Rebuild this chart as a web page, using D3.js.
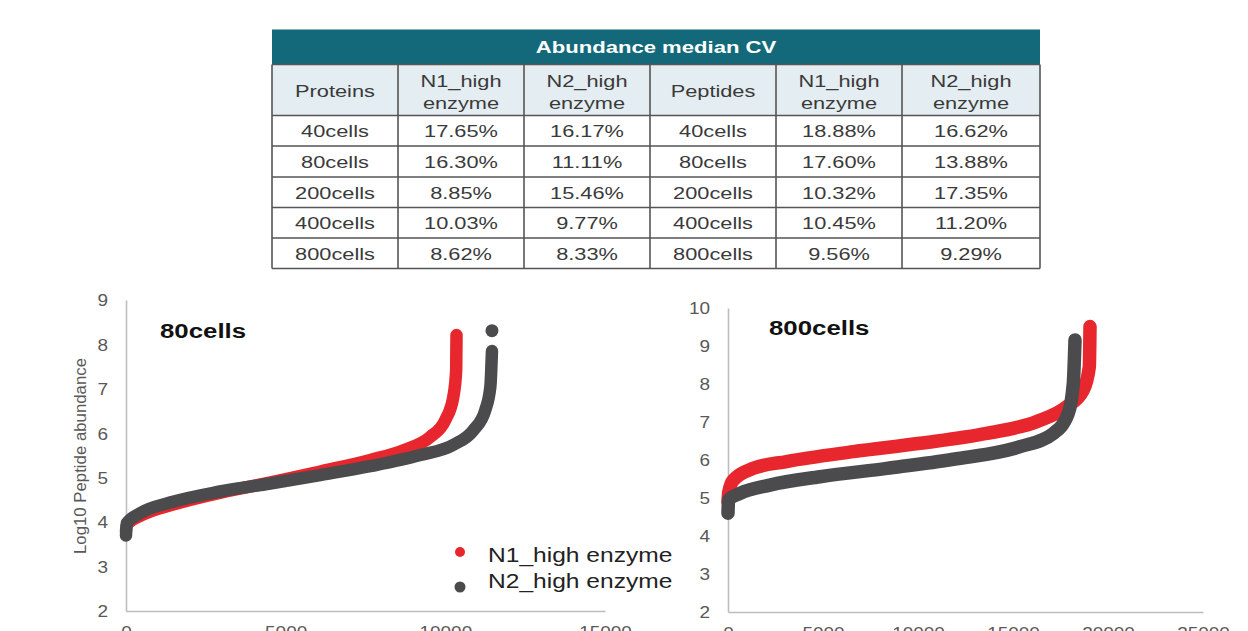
<!DOCTYPE html>
<html><head><meta charset="utf-8">
<script src="https://cdn.jsdelivr.net/npm/d3@7"></script>
<style>body{margin:0;background:#fff}svg{display:block}</style></head>
<body><svg id="c" width="1248" height="631"></svg>
<script>
// ---- table data ----
const tableTitle = "Abundance median CV";
const headerCols = ["Proteins", "N1_high\nenzyme", "N2_high\nenzyme", "Peptides", "N1_high\nenzyme", "N2_high\nenzyme"];
const cellGroups = ["40cells", "80cells", "200cells", "400cells", "800cells"];
const proteinN1 = ["17.65%", "16.30%", "8.85%", "10.03%", "8.62%"];
const proteinN2 = ["16.17%", "11.11%", "15.46%", "9.77%", "8.33%"];
const peptideN1 = ["18.88%", "17.60%", "10.32%", "10.45%", "9.56%"];
const peptideN2 = ["16.62%", "13.88%", "17.35%", "11.20%", "9.29%"];

// ---- chart data (rank, log10 abundance) ----
const seriesNames = ["N1_high enzyme", "N2_high enzyme"];
const c80_N1 = [[0,3.8],[30,3.95],[500,4.16],[1500,4.4],[3000,4.67],[4500,4.89],[6082,5.14],[7649,5.40],[8690,5.62],[9530,5.92],[10000,6.3],[10250,6.82],[10340,7.42],[10350,8.21]];
const c80_N2 = [[0,3.7],[20,3.97],[439,4.2],[1379,4.44],[2947,4.69],[4514,4.87],[6082,5.06],[7649,5.26],[9216,5.51],[10250,5.74],[10880,6.07],[11250,6.52],[11410,7.05],[11460,7.85]];
const c80_N2_outliers = [[11460,8.31]];
const c800_N1 = [[0,4.9],[40,5.15],[280,5.47],[1333,5.78],[3088,5.96],[6596,6.22],[10105,6.44],[13614,6.70],[16246,7.01],[17825,7.40],[18700,7.84],[19018,8.46],[19053,9.51]];
const c800_N2 = [[0,4.6],[30,4.95],[632,5.12],[2210,5.34],[4842,5.56],[8350,5.78],[11860,6.02],[15370,6.35],[17123,6.70],[17912,7.23],[18175,8.02],[18263,9.16]];
const xTicks80 = [0, 5000, 10000, 15000];
const yTicks80 = [2, 3, 4, 5, 6, 7, 8, 9];
const xTicks800 = [0, 5000, 10000, 15000, 20000, 25000];
const yTicks800 = [2, 3, 4, 5, 6, 7, 8, 9, 10];

const RED = "#e8262d", GRAY = "#4b4b4e", TEAL = "#13687a";
const FONT = "'Liberation Sans', Arial, sans-serif";
const svg = d3.select("#c");

function stext(sel, x, y, str, o) {
  const g = sel.append("g").attr("transform", `translate(${x},${y}) scale(${o.sx || 1},1)`);
  return g.append("text").attr("text-anchor", o.anchor || "middle")
    .style("font-family", FONT).style("font-size", o.size + "px")
    .style("font-weight", o.bold ? "bold" : "normal").attr("fill", o.fill || "#333").text(str);
}

// ---- table ----
const colEdges = [272, 398, 524, 650, 776, 902, 1040];
const rowEdges = [115.5, 146, 177, 207.5, 238, 268.5];
const tbl = svg.append("g");
tbl.append("rect").attr("x", 272).attr("y", 29.5).attr("width", 768).attr("height", 35).attr("fill", TEAL);
tbl.append("rect").attr("x", 272).attr("y", 64.5).attr("width", 768).attr("height", 51).attr("fill", "#e4edf1");
stext(tbl, 656, 53, tableTitle, {size: 17, bold: true, fill: "#fff", sx: 1.3});
const TSX = 1.32, TS = 16.5, TC = "#3a3a3a";
headerCols.forEach((h, i) => {
  const cx = (colEdges[i] + colEdges[i + 1]) / 2;
  const parts = h.split("\n");
  if (parts.length === 1) stext(tbl, cx, 96.5, parts[0], {size: TS, sx: TSX, fill: TC});
  else { stext(tbl, cx, 87, parts[0], {size: TS, sx: TSX, fill: TC}); stext(tbl, cx, 108.5, parts[1], {size: TS, sx: TSX, fill: TC}); }
});
const cols = [cellGroups, proteinN1, proteinN2, cellGroups, peptideN1, peptideN2];
cols.forEach((col, i) => {
  const cx = (colEdges[i] + colEdges[i + 1]) / 2;
  col.forEach((v, r) => {
    const cy = (rowEdges[r] + rowEdges[r + 1]) / 2;
    stext(tbl, cx, cy + 6.5, v, {size: TS, sx: TSX, fill: TC});
  });
});
// grid lines
const gl = tbl.append("g").attr("stroke", "#555").attr("stroke-width", 1.6);
colEdges.forEach(x => gl.append("line").attr("x1", x).attr("x2", x).attr("y1", 64.5).attr("y2", 268.5));
[64.5].concat(rowEdges).forEach(y => gl.append("line").attr("x1", 272).attr("x2", 1040).attr("y1", y).attr("y2", y));

// ---- charts ----
function chart(cfg) {
  const x = d3.scaleLinear().domain(cfg.xd).range(cfg.xr);
  const y = d3.scaleLinear().domain(cfg.yd).range(cfg.yr);
  const g = svg.append("g");
  const ya = g.append("g").attr("transform", `translate(${cfg.xr[0]},0)`)
    .call(d3.axisLeft(y).tickValues(cfg.yt).tickSize(0).tickSizeOuter(0).tickPadding(0).tickFormat(d3.format("d")));
  const xa = g.append("g").attr("transform", `translate(0,${cfg.yr[0]})`)
    .call(d3.axisBottom(x).tickValues(cfg.xt).tickSize(0).tickSizeOuter(0).tickFormat(d3.format("d")));
  [ya, xa].forEach(a => {
    a.select(".domain").attr("stroke", "#bdbdbd").attr("stroke-width", 1.6);
    a.selectAll("text").style("font-family", FONT).style("font-size", "16.5px").attr("fill", "#595959");
  });
  ya.selectAll(".tick text").attr("x", -18 / 1.15).attr("dy", "0.35em").attr("transform", "scale(1.15,1)");
  xa.selectAll(".tick text").attr("y", 15).attr("dy", "0.71em").attr("transform", "scale(1.15,1)");
  const line = d3.line().x(d => x(d[0])).y(d => y(d[1])).curve(d3.curveMonotoneX);
  [[cfg.s1, RED], [cfg.s2, GRAY]].forEach(([s, c]) => {
    g.append("path").datum(s).attr("d", line).attr("fill", "none").attr("stroke", c)
      .attr("stroke-width", cfg.sw).attr("stroke-linecap", "round").attr("stroke-linejoin", "round");
  });
  (cfg.out || []).forEach(p => g.append("circle").attr("cx", x(p[0])).attr("cy", y(p[1])).attr("r", 6.5).attr("fill", GRAY));
  stext(g, cfg.title[0], cfg.title[1], cfg.title[2], {size: 20.5, bold: true, fill: "#111", sx: 1.26, anchor: "start"});
  return g;
}
chart({xd: [0, 15000], xr: [126, 605], yd: [2, 9], yr: [611, 300], xt: xTicks80, yt: yTicks80, sw: 12.5,
  s1: c80_N1, s2: c80_N2, out: c80_N2_outliers, title: [160, 338, "80cells"]});
chart({xd: [0, 25000], xr: [728, 1203], yd: [2, 10], yr: [612, 308], xt: xTicks800, yt: yTicks800, sw: 13.5,
  s1: c800_N1, s2: c800_N2, title: [769, 335, "800cells"]});

// y axis title
svg.append("text").attr("transform", "translate(86,456) rotate(-90)").attr("text-anchor", "middle")
  .style("font-family", FONT).style("font-size", "16.8px").attr("fill", "#595959").text("Log10 Peptide abundance");

// legend
const leg = svg.append("g");
[[RED, 552, 562, 5], [GRAY, 587, 588, 5.5]].forEach(([c, cy, by, r], i) => {
  leg.append("circle").attr("cx", 460).attr("cy", cy).attr("r", r).attr("fill", c);
  stext(leg, 488, by, seriesNames[i], {size: 19.5, sx: 1.26, fill: "#222", anchor: "start"});
});
</script></body></html>
